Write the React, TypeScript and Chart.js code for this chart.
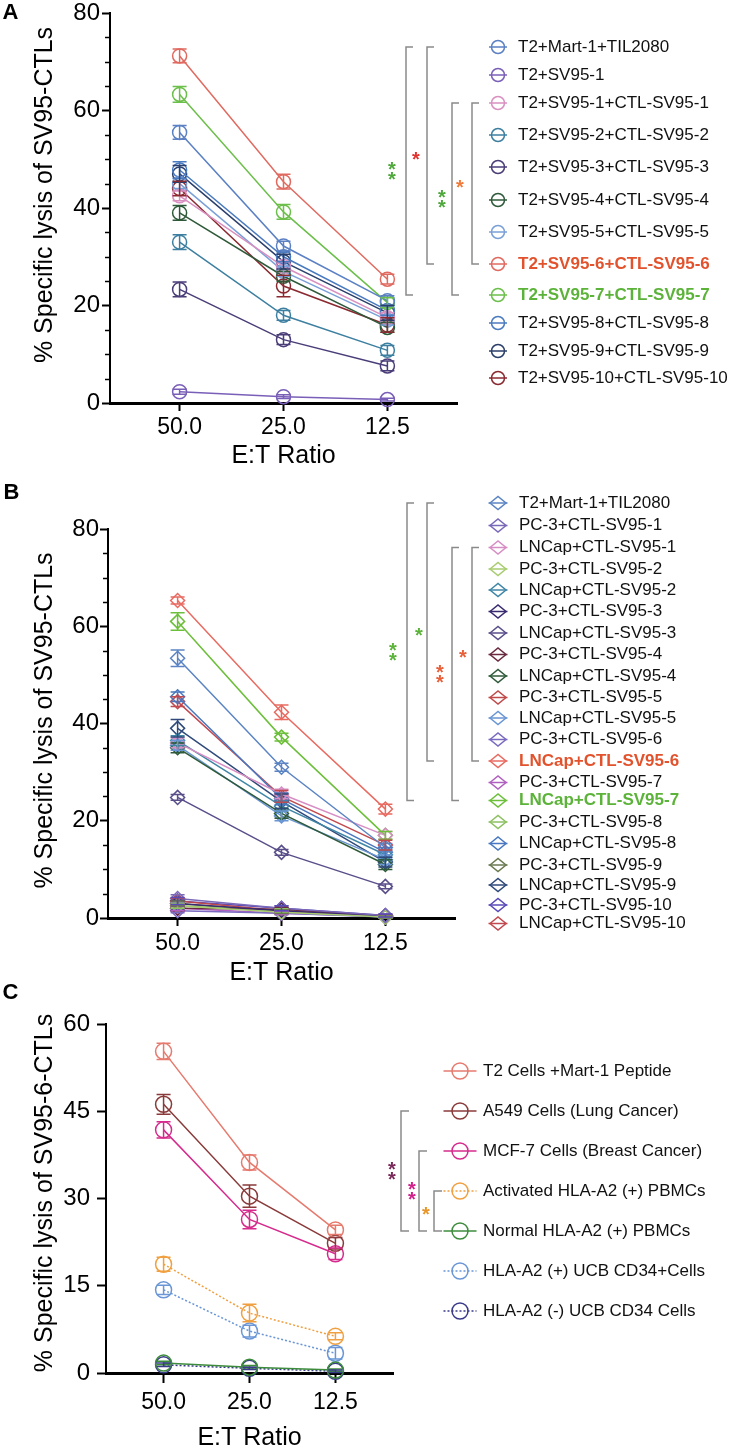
import React, { useEffect, useRef } from 'react';
import { Chart, registerables } from 'chart.js';

Chart.register(...registerables);

const FONT = '"Liberation Sans", Arial, Helvetica, sans-serif';

// ---------- shared ----------
const ratioLabels = ['50.0', '25.0', '12.5'];
const xTitleText = 'E:T Ratio';

// ---------- Panel A ----------
const aNames = [
  'T2+Mart-1+TIL2080',
  'T2+SV95-1',
  'T2+SV95-1+CTL-SV95-1',
  'T2+SV95-2+CTL-SV95-2',
  'T2+SV95-3+CTL-SV95-3',
  'T2+SV95-4+CTL-SV95-4',
  'T2+SV95-5+CTL-SV95-5',
  'T2+SV95-6+CTL-SV95-6',
  'T2+SV95-7+CTL-SV95-7',
  'T2+SV95-8+CTL-SV95-8',
  'T2+SV95-9+CTL-SV95-9',
  'T2+SV95-10+CTL-SV95-10',
];
const aColors = ['#5b80c4', '#7a5fb8', '#d990c0', '#3d7fa0', '#4a3d78', '#2f5a3a', '#7aa0d8', '#e06a60', '#6cbf4a', '#4a7abf', '#2b3f6b', '#8a2a30'];
const aValues = [
  [55.5, 32.2, 21.0],
  [2.3, 1.3, 0.7],
  [42.5, 28.0, 17.5],
  [33.0, 18.0, 10.8],
  [23.3, 13.0, 7.6],
  [39.0, 26.0, 15.5],
  [45.0, 27.0, 17.0],
  [71.2, 45.4, 25.4],
  [63.3, 39.2, 20.6],
  [47.8, 30.0, 19.0],
  [47.0, 29.0, 18.5],
  [44.0, 24.0, 16.0],
];
const aErrors = [
  [1.4, 1.0, 1.0],
  [0.5, 0.4, 0.3],
  [1.0, 1.0, 1.0],
  [1.5, 1.0, 1.0],
  [1.5, 1.0, 1.0],
  [1.5, 1.0, 1.0],
  [1.0, 1.0, 1.0],
  [1.4, 1.5, 1.0],
  [1.6, 1.5, 1.0],
  [1.7, 1.0, 1.0],
  [1.7, 1.5, 1.5],
  [1.5, 2.2, 1.5],
];
const aHighlight = [null, null, null, null, null, null, null, '#e2532d', '#5cb33a', null, null, null];
const aYTicks = [0, 20, 40, 60, 80];
const aYTitle = '% Specific lysis of SV95-CTLs';
const aSig = [
  { from: 0, to: 8, text: '**', color: '#4fa83c' },
  { from: 0, to: 7, text: '*', color: '#e0322e' },
  { from: 2, to: 8, text: '**', color: '#4fa83c' },
  { from: 2, to: 7, text: '*', color: '#f07a3a' },
];

// ---------- Panel B ----------
const bNames = [
  'T2+Mart-1+TIL2080',
  'PC-3+CTL-SV95-1',
  'LNCap+CTL-SV95-1',
  'PC-3+CTL-SV95-2',
  'LNCap+CTL-SV95-2',
  'PC-3+CTL-SV95-3',
  'LNCap+CTL-SV95-3',
  'PC-3+CTL-SV95-4',
  'LNCap+CTL-SV95-4',
  'PC-3+CTL-SV95-5',
  'LNCap+CTL-SV95-5',
  'PC-3+CTL-SV95-6',
  'LNCap+CTL-SV95-6',
  'PC-3+CTL-SV95-7',
  'LNCap+CTL-SV95-7',
  'PC-3+CTL-SV95-8',
  'LNCap+CTL-SV95-8',
  'PC-3+CTL-SV95-9',
  'LNCap+CTL-SV95-9',
  'PC-3+CTL-SV95-10',
  'LNCap+CTL-SV95-10',
];
const bColors = ['#5b84c4', '#7a68b8', '#d68ec4', '#a8cc70', '#3f86a6', '#3a2a70', '#5a4e8a', '#6a2a40', '#2f5a3a', '#c04a4a', '#6a96d4', '#7a6ac0', '#e86a60', '#b060c0', '#6cbf3a', '#8cc060', '#4a78c0', '#6a7a50', '#2f4a7a', '#5a4ab8', '#c04a50'];
const bValues = [
  [53.4, 31.0, 14.5],
  [4.0, 2.0, 0.5],
  [36.0, 25.5, 17.0],
  [2.5, 1.2, 0.2],
  [36.5, 23.0, 13.0],
  [3.0, 1.5, 0.3],
  [24.8, 13.5, 6.5],
  [2.0, 1.8, 0.4],
  [35.0, 21.5, 11.0],
  [3.5, 1.5, 0.3],
  [35.5, 21.0, 12.0],
  [1.5, 1.0, 0.2],
  [65.3, 42.3, 22.4],
  [2.0, 1.0, 0.3],
  [61.0, 37.2, 17.0],
  [2.5, 1.5, 0.2],
  [45.5, 24.5, 13.5],
  [3.0, 1.3, 0.2],
  [39.0, 24.0, 11.5],
  [3.5, 2.0, 0.5],
  [44.5, 25.0, 15.0],
];
const bErrors = [
  [1.7, 0.8, 0.8],
  [0.8, 0.5, 0.3],
  [1.0, 1.0, 0.8],
  [0.5, 0.4, 0.2],
  [1.0, 1.0, 1.0],
  [0.6, 0.4, 0.2],
  [0.6, 0.6, 0.5],
  [0.5, 0.4, 0.2],
  [1.0, 1.0, 1.0],
  [0.6, 0.4, 0.2],
  [1.0, 1.0, 1.0],
  [0.4, 0.3, 0.2],
  [0.7, 1.5, 1.0],
  [0.5, 0.3, 0.2],
  [1.8, 0.8, 0.8],
  [0.5, 0.4, 0.2],
  [1.0, 1.2, 1.0],
  [0.5, 0.4, 0.2],
  [1.8, 1.5, 1.0],
  [0.7, 0.5, 0.3],
  [1.0, 1.2, 1.0],
];
const bHighlight = bNames.map((_, i) => (i === 12 ? '#e2532d' : i === 14 ? '#5cb33a' : null));
const bYTicks = [0, 20, 40, 60, 80];
const bYTitle = '% Specific lysis of SV95-CTLs';
const bSig = [
  { from: 0, to: 14, text: '**', color: '#5cb33a' },
  { from: 0, to: 12, text: '*', color: '#5cb33a' },
  { from: 2, to: 14, text: '**', color: '#e8603a' },
  { from: 2, to: 12, text: '*', color: '#e8603a' },
];

// ---------- Panel C ----------
const cNames = [
  'T2 Cells +Mart-1 Peptide',
  'A549 Cells (Lung Cancer)',
  'MCF-7 Cells (Breast Cancer)',
  'Activated HLA-A2 (+) PBMCs',
  'Normal HLA-A2 (+) PBMCs',
  'HLA-A2 (+) UCB CD34+Cells',
  'HLA-A2 (-) UCB CD34 Cells',
];
const cColors = ['#e67a6e', '#8a3a3a', '#d62a8c', '#f0a040', '#3c8c3c', '#6a96d6', '#3a3a8a'];
const cDotted = [false, false, false, true, false, true, true];
const cValues = [
  [55.3, 36.2, 24.6],
  [46.2, 30.4, 22.3],
  [41.8, 26.4, 20.5],
  [18.7, 10.3, 6.3],
  [1.7, 1.0, 0.5],
  [14.3, 7.2, 3.4],
  [1.4, 0.8, 0.3],
];
const cErrors = [
  [1.4, 1.3, 0.8],
  [1.7, 1.9, 1.0],
  [1.4, 1.6, 1.0],
  [1.2, 1.5, 0.6],
  [0.3, 0.3, 0.2],
  [0.8, 1.0, 1.0],
  [0.3, 0.2, 0.2],
];
const cHighlight = cNames.map(() => null);
const cYTicks = [0, 15, 30, 45, 60];
const cYTitle = '% Specific lysis of SV95-6-CTLs';
const cSig = [
  { from: 1, to: 4, text: '**', color: '#7a2a5a' },
  { from: 2, to: 4, text: '**', color: '#d0208a' },
  { from: 3, to: 4, text: '*', color: '#e8962a' },
];

// ---------- layouts (pixel placement only) ----------
const layoutA = {
  height: 475, padLeft: 20, padRight: 279, padTop: 13, yWidth: 90, xHeight: 72,
  yTickLen: 8, yTickPad: 2, xTickLen: 8, xTickPad: 3,
  yTitleX: 45, yTitleY: 195, xTitleY: 456, letterX: 10.5, letterY: 12.5,
  legendRows: [47, 75, 103, 135, 167, 200, 232, 264, 295, 323, 351, 378],
  markerX: 498, markerHalf: 9, markerW: 6.5, markerH: 6.5, textX: 518,
  bracketX: [406, 427, 452, 472], bracketTick: 7, sigX: [392, 416, 442, 460], pointRadius: 7,
};
const layoutB = {
  height: 505, padLeft: 20, padRight: 281, padTop: 54, yWidth: 88, xHeight: 62,
  yTickLen: 8, yTickPad: 1, xTickLen: 8, xTickPad: 4,
  yTitleX: 45, yTitleY: 245.5, xTitleY: 498, letterX: 11.5, letterY: 17.5,
  legendRows: [28, 50.5, 72.5, 94, 115, 136.5, 158, 179.5, 201, 222.5, 243, 264.5, 286, 307.5, 325.5, 347, 368.5, 390, 410, 430, 448.5],
  markerX: 498, markerHalf: 9.5, markerW: 8, markerH: 6.5, textX: 519,
  bracketX: [407, 427, 452, 472], bracketTick: 7, sigX: [393, 419, 440, 463], pointRadius: 7,
};
const layoutC = {
  height: 471, padLeft: 20, padRight: 343, padTop: 44, yWidth: 86, xHeight: 78,
  yTickLen: 9, yTickPad: 7, xTickLen: 10, xTickPad: 5.5,
  yTitleX: 45, yTitleY: 213, xTitleY: 458, letterX: 10.5, letterY: 12.5,
  legendRows: [91, 131, 171, 211, 251, 291, 331],
  markerX: 460, markerHalf: 16.5, markerW: 8, markerH: 8, textX: 483,
  bracketX: [401, 419, 434], bracketTick: 8, sigX: [392, 412, 426], pointRadius: 8,
};

const specA = { letter: 'A', names: aNames, colors: aColors, values: aValues, errors: aErrors, dotted: aNames.map(() => false), highlight: aHighlight, marker: 'circle', yTicks: aYTicks, yMinorStep: 5, yTitle: aYTitle, sig: aSig, layout: layoutA };
const specB = { letter: 'B', names: bNames, colors: bColors, values: bValues, errors: bErrors, dotted: bNames.map(() => false), highlight: bHighlight, marker: 'rectRot', yTicks: bYTicks, yMinorStep: 5, yTitle: bYTitle, sig: bSig, layout: layoutB };
const specC = { letter: 'C', names: cNames, colors: cColors, values: cValues, errors: cErrors, dotted: cDotted, highlight: cHighlight, marker: 'circle', yTicks: cYTicks, yMinorStep: null, yTitle: cYTitle, sig: cSig, layout: layoutC };

function buildChart(canvas: HTMLCanvasElement, s: any) {
  const L = s.layout;
  const yMin = s.yTicks[0];
  const yMax = s.yTicks[s.yTicks.length - 1];
  const capHalf = 7;

  const decor = {
    id: 'decor',
    afterDatasetsDraw(chart: any) {
      const ctx = chart.ctx;
      const ys = chart.scales.y;
      chart.data.datasets.forEach((ds: any, i: number) => {
        const meta = chart.getDatasetMeta(i);
        ctx.save();
        ctx.strokeStyle = ds.borderColor;
        ctx.lineWidth = 1.5;
        ctx.setLineDash([]);
        s.errors[i].forEach((e: number, j: number) => {
          const pt = meta.data[j];
          const v = s.values[i][j];
          const y1 = ys.getPixelForValue(v + e);
          const y2 = ys.getPixelForValue(v - e);
          ctx.beginPath();
          ctx.moveTo(pt.x, y1);
          ctx.lineTo(pt.x, y2);
          ctx.moveTo(pt.x - capHalf, y1);
          ctx.lineTo(pt.x + capHalf, y1);
          ctx.moveTo(pt.x - capHalf, y2);
          ctx.lineTo(pt.x + capHalf, y2);
          ctx.stroke();
        });
        ctx.restore();
      });
    },
    afterDraw(chart: any) {
      const ctx = chart.ctx;
      const ys = chart.scales.y;
      const xs = chart.scales.x;
      const area = chart.chartArea;
      ctx.save();
      // minor ticks
      if (s.yMinorStep) {
        ctx.strokeStyle = '#000';
        ctx.lineWidth = 1.5;
        for (let v = yMin; v <= yMax; v += s.yMinorStep) {
          if (s.yTicks.indexOf(v) >= 0) continue;
          const py = Math.round(ys.getPixelForValue(v)) + 0.5;
          ctx.beginPath();
          ctx.moveTo(area.left - 5, py);
          ctx.lineTo(area.left, py);
          ctx.stroke();
        }
      }
      // axis titles
      ctx.fillStyle = '#000';
      ctx.font = `25px ${FONT}`;
      ctx.textAlign = 'center';
      ctx.textBaseline = 'middle';
      ctx.fillText(xTitleText, xs.getPixelForValue(1), L.xTitleY);
      ctx.save();
      ctx.translate(L.yTitleX, L.yTitleY);
      ctx.rotate(-Math.PI / 2);
      ctx.fillText(s.yTitle, 0, 0);
      ctx.restore();
      // panel letter
      ctx.font = `bold 22px ${FONT}`;
      ctx.fillText(s.letter, L.letterX, L.letterY);
      // legend
      const rowY = (i: number) => L.legendRows[i];
      s.names.forEach((name: string, i: number) => {
        const y = rowY(i);
        const c = s.colors[i];
        ctx.strokeStyle = c;
        ctx.lineWidth = 1.5;
        ctx.setLineDash(s.dotted[i] ? [2, 2] : []);
        ctx.beginPath();
        ctx.moveTo(L.markerX - L.markerHalf, y);
        ctx.lineTo(L.markerX + L.markerHalf, y);
        ctx.stroke();
        ctx.setLineDash([]);
        ctx.beginPath();
        if (s.marker === 'circle') {
          ctx.arc(L.markerX, y, L.markerW, 0, Math.PI * 2);
        } else {
          ctx.moveTo(L.markerX - L.markerW, y);
          ctx.lineTo(L.markerX, y - L.markerH);
          ctx.lineTo(L.markerX + L.markerW, y);
          ctx.lineTo(L.markerX, y + L.markerH);
          ctx.closePath();
        }
        ctx.stroke();
        const hl = s.highlight[i];
        ctx.font = `${hl ? 'bold ' : ''}17px ${FONT}`;
        ctx.fillStyle = hl || '#111';
        ctx.textAlign = 'left';
        ctx.textBaseline = 'middle';
        ctx.fillText(name, L.textX, y);
      });
      // significance brackets
      s.sig.forEach((g: any, k: number) => {
        const bx = L.bracketX[k];
        const y1 = rowY(g.from);
        const y2 = rowY(g.to);
        ctx.strokeStyle = '#8a8a8a';
        ctx.lineWidth = 1.5;
        ctx.beginPath();
        ctx.moveTo(bx + L.bracketTick, y1);
        ctx.lineTo(bx, y1);
        ctx.lineTo(bx, y2);
        ctx.lineTo(bx + L.bracketTick, y2);
        ctx.stroke();
        ctx.fillStyle = g.color;
        ctx.font = `bold 20px ${FONT}`;
        ctx.textAlign = 'center';
        ctx.textBaseline = 'alphabetic';
        const m = ctx.measureText('*');
        const off = (m.actualBoundingBoxAscent - m.actualBoundingBoxDescent) / 2;
        const n = g.text.length;
        const mid = (y1 + y2) / 2;
        for (let t = 0; t < n; t++) {
          const cy = mid + (t - (n - 1) / 2) * 10;
          ctx.fillText('*', L.sigX[k], cy + off);
        }
      });
      ctx.restore();
    },
  };

  const datasets = s.names.map((name: string, i: number) => ({
    label: name,
    data: s.values[i].map((v: number, j: number) => ({ x: j, y: v })),
    borderColor: s.colors[i],
    backgroundColor: 'rgba(0,0,0,0)',
    borderWidth: 1.5,
    borderDash: s.dotted[i] ? [2, 2] : [],
    pointStyle: s.marker,
    pointRadius: L.pointRadius,
    pointBorderWidth: 1.5,
    pointBorderColor: s.colors[i],
    pointBackgroundColor: 'rgba(0,0,0,0)',
    fill: false,
    tension: 0,
    clip: false,
  }));

  return new Chart(canvas, {
    type: 'line',
    data: { datasets },
    options: {
      animation: false,
      responsive: false,
      devicePixelRatio: 1,
      layout: { padding: { left: L.padLeft, right: L.padRight, top: L.padTop, bottom: 0 } },
      plugins: { legend: { display: false }, tooltip: { enabled: false }, title: { display: false } },
      scales: {
        x: {
          type: 'linear',
          min: -0.67,
          max: 2.67,
          afterBuildTicks: (sc: any) => { sc.ticks = ratioLabels.map((_, i) => ({ value: i })); },
          afterFit: (sc: any) => { sc.height = L.xHeight; sc.paddingLeft = 0; sc.paddingRight = 0; sc.paddingTop = 0; sc.paddingBottom = 0; },
          ticks: {
            callback: (v: any) => ratioLabels[v] ?? '',
            font: { family: FONT, size: 23 },
            color: '#000',
            padding: L.xTickPad,
            maxRotation: 0,
            autoSkip: false,
          },
          grid: { display: true, drawOnChartArea: false, drawTicks: true, tickLength: L.xTickLen, tickWidth: 2, tickColor: '#000', color: '#000' },
          border: { display: true, color: '#000', width: 3 },
        },
        y: {
          type: 'linear',
          min: yMin,
          max: yMax,
          afterBuildTicks: (sc: any) => { sc.ticks = s.yTicks.map((v: number) => ({ value: v })); },
          afterFit: (sc: any) => { sc.width = L.yWidth; sc.paddingTop = 0; sc.paddingBottom = 0; sc.paddingLeft = 0; sc.paddingRight = 0; },
          ticks: {
            font: { family: FONT, size: 24 },
            color: '#000',
            padding: L.yTickPad,
          },
          grid: { display: true, drawOnChartArea: false, drawTicks: true, tickLength: L.yTickLen, tickWidth: 2, tickColor: '#000', color: '#000' },
          border: { display: true, color: '#000', width: 2 },
        },
      },
    },
    plugins: [decor],
  } as any);
}

function Panel({ spec, top }: { spec: any; top: number }) {
  const ref = useRef<HTMLCanvasElement>(null);
  useEffect(() => {
    const chart = buildChart(ref.current as HTMLCanvasElement, spec);
    return () => chart.destroy();
  }, [spec]);
  const h = spec.layout.height;
  return (
    <canvas
      ref={ref}
      width={736}
      height={h}
      style={{ position: 'absolute', left: 0, top, width: 736, height: h, display: 'block' }}
    />
  );
}

export default function App() {
  return (
    <div style={{ position: 'absolute', left: 0, top: 0, width: 736, height: 1451, background: '#fff', overflow: 'hidden' }}>
      <Panel spec={specA} top={0} />
      <Panel spec={specB} top={475} />
      <Panel spec={specC} top={980} />
    </div>
  );
}
